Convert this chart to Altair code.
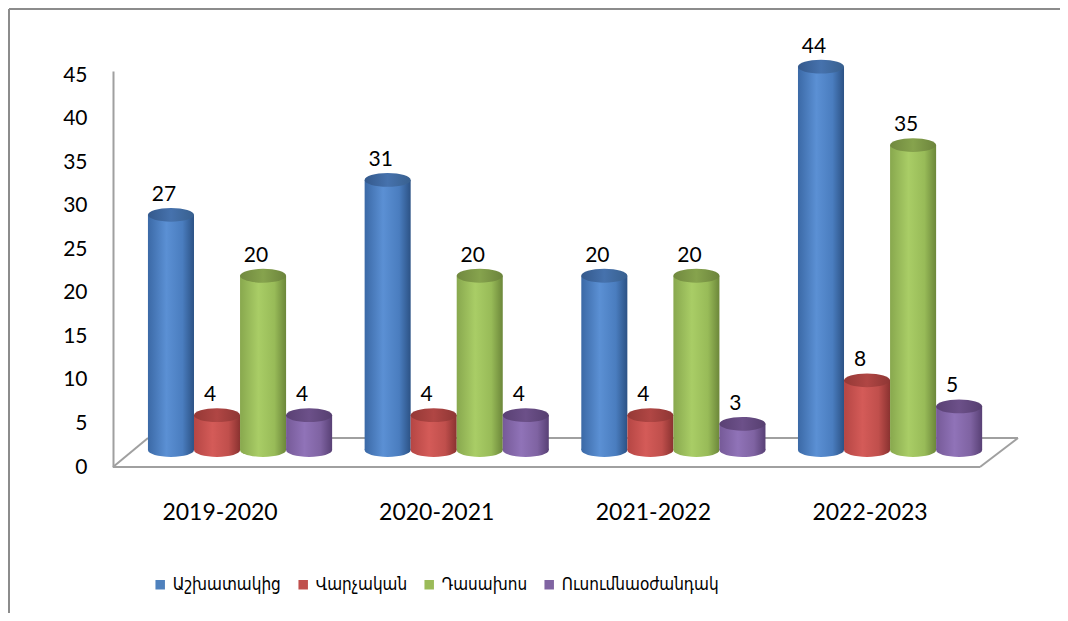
import altair as alt
import pandas as pd

years = ["2019-2020", "2020-2021", "2021-2022", "2022-2023"]
series = ["Աշխատակից", "Վարչական", "Դասախոս", "Ուսումնաօժանդակ"]
v_blue = [27, 31, 20, 44]
v_red = [4, 4, 4, 8]
v_green = [20, 20, 20, 35]
v_purple = [4, 4, 3, 5]
values = [v_blue, v_red, v_green, v_purple]
colors = ["#4F81BD", "#C0504D", "#9BBB59", "#8064A2"]
body_stops = [
    ["#3b69a6", "#5b90d4", "#4a7dbf", "#2c5285"],
    ["#b54644", "#d45b58", "#c04f4c", "#8a3230"],
    ["#88a84e", "#a9cd66", "#98bb58", "#6c873a"],
    ["#765a98", "#9073b8", "#7f63a2", "#584075"],
]
top_stops = [
    ["#34598c", "#4672ad", "#38608f"],
    ["#953936", "#b04644", "#8e3634"],
    ["#71893f", "#86a34d", "#6c843c"],
    ["#5a4174", "#6c5089", "#563f70"],
]

rows = []
for s, vals in zip(series, values):
    for y, v in zip(years, vals):
        rows.append({"year": y, "series": s, "value": v})
df = pd.DataFrame(rows)

W, H = 866.7, 396
PAD_L, PAD_T = 123.7, 63
BASE = -17
n = len(years)
p_in = 0.15
step = W / n
bar_w = step * (1 - p_in) / len(series)
SYM = bar_w ** 2
ELL = "M-1,0A1,0.3,0,1,1,1,0A1,0.3,0,1,1,-1,0Z"

X = alt.X("year:N", scale=alt.Scale(domain=years, paddingInner=p_in, paddingOuter=p_in / 2),
          axis=alt.Axis(title=None, domain=False, ticks=False, labelOffset=-20, labelPadding=34,
                        labelFont="Lato", labelFontSize=23, labelColor="#000000", labelAngle=0))
XO = alt.XOffset("series:N", scale=alt.Scale(domain=series, paddingInner=0, paddingOuter=0))
Y = alt.Y("value:Q", scale=alt.Scale(domain=[0, 45.46], nice=False, zero=True),
          axis=alt.Axis(title=None, values=list(range(0, 50, 5)), grid=False, ticks=False, tickSize=0,
                        domain=True, domainColor="#a0a0a0", domainWidth=2, offset=18.7, labelPadding=26,
                        labelFont="Lato", labelFontSize=21, labelColor="#000000"))


def grad(stops):
    offs = [0, 0.4, 0.75, 1] if len(stops) == 4 else [0, 0.5, 1]
    return alt.Gradient(gradient="linear", x1=0, x2=1, y1=0, y2=0,
                        stops=[alt.GradientStop(offset=o, color=c) for o, c in zip(offs, stops)])


layers = []
one = pd.DataFrame({"a": [0]})
floor_col = "#a0a0a0"
# frame border
layers.append(alt.Chart(one).mark_rule(color="#8c8c8c", strokeWidth=2).encode(
    x=alt.value(-122.7), y=alt.value(-62), y2=alt.value(H + 200)))
layers.append(alt.Chart(one).mark_rule(color="#8c8c8c", strokeWidth=2).encode(
    x=alt.value(-122.7), x2=alt.value(W + 100), y=alt.value(-62)))
# floor
layers.append(alt.Chart(one).mark_rule(color=floor_col, strokeWidth=2).encode(
    x=alt.value(16.3), x2=alt.value(886.3), y=alt.value(H - 29)))
layers.append(alt.Chart(one).mark_rule(color=floor_col, strokeWidth=2).encode(
    x=alt.value(-18.7), x2=alt.value(16.3), y=alt.value(H), y2=alt.value(H - 29)))
layers.append(alt.Chart(one).mark_rule(color=floor_col, strokeWidth=2).encode(
    x=alt.value(848.3), x2=alt.value(886.3), y=alt.value(H), y2=alt.value(H - 29)))
layers.append(alt.Chart(one).mark_rule(color=floor_col, strokeWidth=2).encode(
    x=alt.value(-18.7), x2=alt.value(848.3), y=alt.value(H)))

for i, s in enumerate(series):
    base = alt.Chart(df).transform_filter(alt.datum.series == s)
    g = grad(body_stops[i])
    body = base.mark_bar(fill=g, yOffset=BASE, y2Offset=BASE, strokeWidth=0).encode(
        x=X, xOffset=XO, y=Y, y2=alt.datum(0))
    bottom = base.mark_point(shape=ELL, size=SYM, filled=True, fill=g, opacity=1, strokeWidth=0,
                             yOffset=BASE).encode(x=X, xOffset=XO, y=alt.datum(0))
    top = base.mark_point(shape=ELL, size=SYM, filled=True, fill=grad(top_stops[i]), opacity=1,
                          strokeWidth=0, yOffset=BASE).encode(x=X, xOffset=XO, y=Y)
    label = base.mark_text(font="Lato", fontSize=21, color="#000000", baseline="alphabetic",
                           dx=-7, dy=BASE - 14).encode(x=X, xOffset=XO, y=Y, text="value:Q")
    layers += [bottom, body, top, label]

legend_layer = alt.Chart(df).mark_square(size=0, opacity=0).encode(
    x=X, xOffset=XO, y=Y,
    color=alt.Color("series:N", scale=alt.Scale(domain=series, range=colors),
                    legend=alt.Legend(title=None, orient="none", legendX=20, legendY=505,
                                      direction="horizontal", columns=4, symbolType="square",
                                      symbolSize=90, symbolOpacity=1, symbolStrokeWidth=0,
                                      labelFont="DejaVu Sans Condensed", labelFontSize=17,
                                      labelColor="#000000", labelLimit=0,
                                      labelOffset=4, columnPadding=13)))
layers.append(legend_layer)

chart = alt.layer(*layers).properties(
    width=W, height=H,
    autosize=alt.AutoSizeParams(type="none"),
    padding={"left": PAD_L, "top": PAD_T, "right": 1052 - PAD_L - W, "bottom": 605 - PAD_T - H},
).configure_view(stroke=None)

chart.save("out.html", embed_options={"renderer": "svg", "actions": False})
